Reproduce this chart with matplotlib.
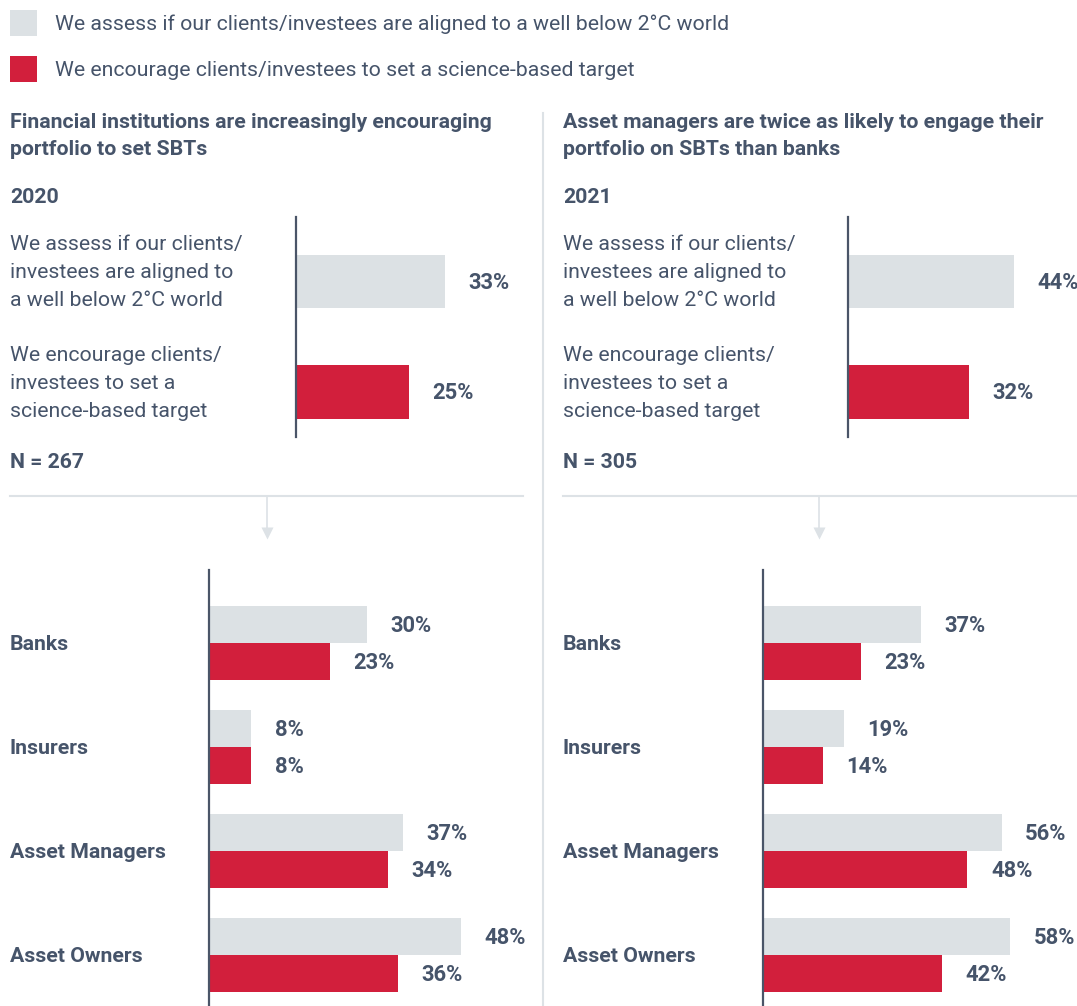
import matplotlib.pyplot as plt
from matplotlib.transforms import blended_transform_factory

# 数据
legend_labels = ['We assess if our clients/investees are aligned to a well below 2°C world',
                 'We encourage clients/investees to set a science-based target']
titles = ['Financial institutions are increasingly encouraging\nportfolio to set SBTs',
          'Asset managers are twice as likely to engage their\nportfolio on SBTs than banks']
years = ['2020', '2021']
sample_sizes = ['N = 267', 'N = 305']
top_labels = [['We assess if our clients/', 'investees are aligned to', 'a well below 2°C world'],
              ['We encourage clients/', 'investees to set a', 'science-based target']]
top_assess = [33, 44]
top_encourage = [25, 32]

categories = ['Banks', 'Insurers', 'Asset Managers', 'Asset Owners']
assess_2020 = [30, 8, 37, 48]
encourage_2020 = [23, 8, 34, 36]
assess_2021 = [37, 19, 56, 58]
encourage_2021 = [23, 14, 48, 42]

GREY = '#dce1e4'
RED = '#d21f3c'
TEXT = '#46546a'
AXIS = '#4a5568'
LINE = '#dde2e6'

plt.rcParams['font.family'] = ['Roboto', 'DejaVu Sans']

FS = 15.3      # 普通文字
FS_B = 15.3    # 粗体标题
FS_PCT = 15.8  # 百分比

W, H = 1077, 1006
fig = plt.figure(figsize=(W / 100, H / 100), dpi=100)

# 背景层 (像素坐标)
bg = fig.add_axes([0, 0, 1, 1])
bg.set_xlim(0, W)
bg.set_ylim(H, 0)
bg.axis('off')


def box(x0, y0, x1, y1):
    return [x0 / W, 1 - y1 / H, (x1 - x0) / W, (y1 - y0) / H]


# 图例
for i, (lab, col) in enumerate(zip(legend_labels, [GREY, RED])):
    y = 23 + 46 * i
    bg.add_patch(plt.Rectangle((10, y - 13), 27, 26, color=col, lw=0))
    bg.text(55, y + 1, lab, fontsize=FS, color=TEXT, va='center')

# 分隔线
bg.plot([10, 523], [496, 496], color=LINE, lw=1.5)
bg.plot([563, W], [496, 496], color=LINE, lw=1.5)
bg.plot([543, 543], [113, H], color=LINE, lw=1.5)
for ax_x in [267, 819]:
    bg.plot([ax_x, ax_x], [497, 530], color=LINE, lw=1.2)
    bg.plot([ax_x], [533], marker='v', color=LINE, ms=9, mec='none')

col_x = [10, 563]
top_axis_x = [296, 848]
top_scale = [4.52, 3.77]   # 像素/百分比
bot_axis_x = [209, 763]
bot_scale = [5.25, 4.26]
bottom_assess = [assess_2020, assess_2021]
bottom_encourage = [encourage_2020, encourage_2021]

for p in range(2):
    x0 = col_x[p]
    for k, line in enumerate(titles[p].split('\n')):
        bg.text(x0, 122 + 27 * k, line, fontsize=FS_B, fontweight='bold', color=TEXT,
                va='center')
    bg.text(x0, 197, years[p], fontsize=FS_B, fontweight='bold', color=TEXT, va='center')
    bg.text(x0, 462, sample_sizes[p], fontsize=FS_B, fontweight='bold', color=TEXT, va='center')

    # 上方图
    ax = fig.add_axes(box(top_axis_x[p], 217, top_axis_x[p] + 200, 437))
    ax.set_xlim(0, 200 / top_scale[p])
    ax.set_ylim(1.407, -0.584)
    vals = [top_assess[p], top_encourage[p]]
    ax.barh([0, 1], vals, height=0.484, color=[GREY, RED])
    tr = blended_transform_factory(fig.transFigure, ax.transData)
    for yi, v in enumerate(vals):
        ax.annotate(f'{v}%', (v, yi), xytext=(17, -1), textcoords='offset points',
                    fontsize=FS_PCT, fontweight='bold', color=TEXT, va='center',
                    annotation_clip=False)
        for k, line in enumerate(top_labels[yi]):
            ax.annotate(line, (x0 / W, yi), xycoords=tr,
                        xytext=(0, -(-37 + 28 * k) * 0.72), textcoords='offset points',
                        fontsize=FS, color=TEXT, va='center', annotation_clip=False)

    # 下方图
    ax2 = fig.add_axes(box(bot_axis_x[p], 570, bot_axis_x[p] + 300, H))
    ax2.set_xlim(0, 300 / bot_scale[p])
    ax2.set_ylim(3.49, -0.702)
    ys = list(range(len(categories)))
    ax2.barh([y - 0.18 for y in ys], bottom_assess[p], height=0.36, color=GREY)
    ax2.barh([y + 0.18 for y in ys], bottom_encourage[p], height=0.36, color=RED)
    tr2 = blended_transform_factory(fig.transFigure, ax2.transData)
    for y, a, e, c in zip(ys, bottom_assess[p], bottom_encourage[p], categories):
        ax2.annotate(f'{a}%', (a, y - 0.18), xytext=(17, -1), textcoords='offset points',
                     fontsize=FS_PCT, fontweight='bold', color=TEXT, va='center',
                     annotation_clip=False)
        ax2.annotate(f'{e}%', (e, y + 0.18), xytext=(17, -1), textcoords='offset points',
                     fontsize=FS_PCT, fontweight='bold', color=TEXT, va='center',
                     annotation_clip=False)
        ax2.text(x0 / W, y + 0.01, c, transform=tr2, fontsize=FS_B, fontweight='bold',
                 color=TEXT, va='center')

    for a in (ax, ax2):
        a.patch.set_alpha(0)
        for s in ['top', 'right', 'bottom']:
            a.spines[s].set_visible(False)
        a.spines['left'].set_color(AXIS)
        a.spines['left'].set_linewidth(1.6)
        a.set_xticks([])
        a.set_yticks([])

fig.savefig('out.png', dpi=100)
